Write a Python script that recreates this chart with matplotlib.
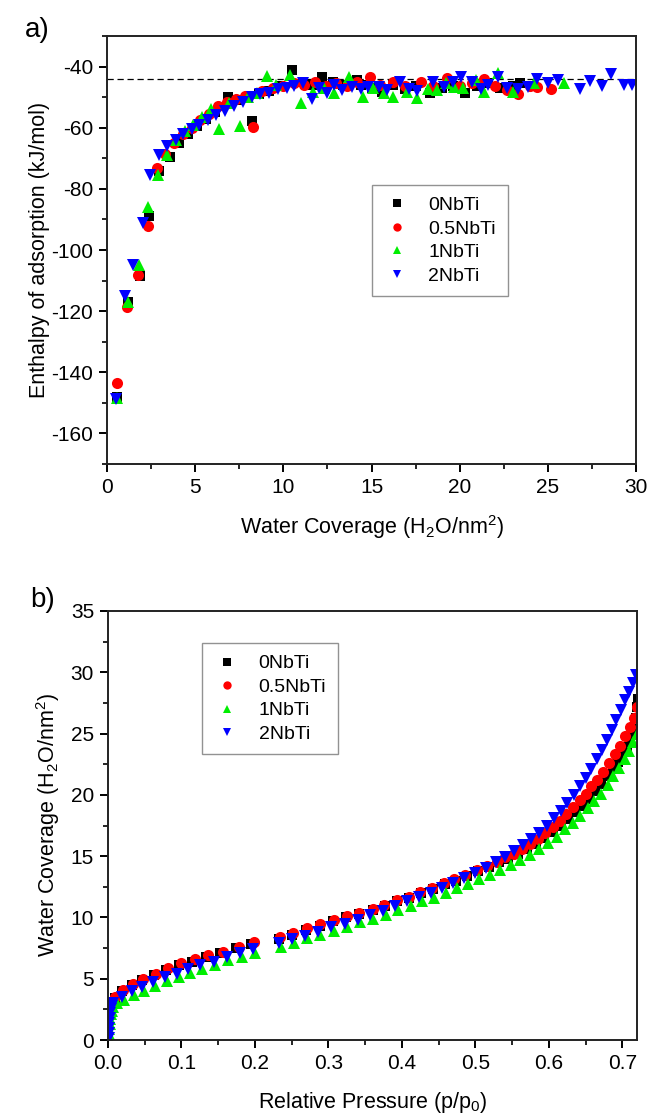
import matplotlib
matplotlib.use("Agg")
import matplotlib.pyplot as plt
from matplotlib.ticker import MultipleLocator

plt.rcParams['font.family'] = ['Liberation Sans', 'DejaVu Sans']
plt.rcParams['mathtext.fontset'] = 'custom'
plt.rcParams['mathtext.rm'] = 'Liberation Sans'
plt.rcParams['mathtext.it'] = 'Liberation Sans:italic'
plt.rcParams['axes.unicode_minus'] = False

labels = ['0NbTi', '0.5NbTi', '1NbTi', '2NbTi']
colors = ['#000000', '#ff0000', '#00ee00', '#0000ff']
markers = ['s', 'o', '^', 'v']

# ---- panel a) enthalpy of adsorption vs water coverage ----
a_x_0 = [0.57, 1.19, 1.87, 2.38, 2.95, 3.6, 4.1, 4.6, 5.1, 5.6, 6.1, 6.86, 7.4, 8.2, 8.6, 9.2, 9.8,
         10.5, 11.1, 11.7, 12.2, 12.8, 13.4, 14.2, 14.4, 15.0, 15.6, 16.2, 16.9, 17.5, 18.3, 19.0,
         19.6, 20.3, 21.0, 21.6, 22.3, 23.0, 23.4]
a_y_0 = [-148, -117, -108.4, -89, -74, -69.6, -65, -62, -59.5, -57, -55, -50, -51, -57.8, -49, -48,
         -46.5, -41.2, -45, -46, -43.4, -45.1, -46, -44.4, -46.1, -47, -48.3, -46, -47.5, -46.5,
         -48.7, -47, -46.5, -48.7, -46.5, -45.5, -47, -46.5, -45.5]

a_x_05 = [0.57, 1.13, 1.76, 2.33, 2.84, 3.3, 3.8, 4.3, 4.8, 5.3, 5.8, 6.3, 6.8, 7.3, 7.8, 8.3, 8.8,
          9.4, 10.0, 10.6, 11.2, 11.8, 12.4, 13.0, 13.6, 14.2, 14.9, 15.5, 16.2, 16.9, 17.8, 18.5,
          19.3, 20.0, 20.7, 21.4, 22.0, 22.7, 23.3, 24.0, 24.4, 25.2]
a_y_05 = [-143.5, -118.5, -108.3, -92.3, -73.3, -68.5, -65, -62, -60, -57.5, -55.5, -53, -51.5,
          -50.5, -49.5, -59.8, -48, -47, -46.5, -45.5, -46, -45, -46.5, -45.5, -46.5, -45, -43.3,
          -46, -45, -46.5, -45, -46.5, -43.8, -46.5, -45.5, -44.1, -46.5, -47.7, -49, -46.5,
          -46.6, -47.5]

a_x_1 = [0.57, 1.19, 1.82, 2.33, 2.9, 3.4, 3.9, 4.4, 4.9, 5.4, 5.9, 6.35, 6.9, 7.55, 8.0, 8.5,
         9.07, 9.6, 10.4, 11.0, 11.7, 12.3, 12.9, 13.7, 14.5, 15.1, 15.7, 16.2, 17.0, 17.6, 18.2,
         18.7, 19.2, 19.7, 20.2, 20.9, 21.4, 22.2, 23.0, 24.2, 25.9]
a_y_1 = [-148.4, -117, -105, -86, -75.6, -69, -64, -61, -59, -56.5, -54, -60.5, -52, -59.5, -50,
         -48.5, -43, -46, -42.8, -52, -48.3, -47, -48.7, -43.4, -49.9, -47, -48.7, -49.9, -48.4,
         -50.4, -47.5, -47.6, -45.5, -46.6, -47.1, -44.5, -48.3, -42.2, -48.3, -45.5, -45.5]

a_x_2 = [0.51, 1.02, 1.48, 2.04, 2.44, 2.95, 3.4, 3.9, 4.3, 4.8, 5.2, 5.7, 6.2, 6.7, 7.2, 7.7,
         8.2, 8.7, 9.2, 9.7, 10.2, 10.6, 11.1, 11.6, 12.0, 12.5, 12.9, 13.3, 13.9, 14.4, 14.8,
         15.4, 15.9, 16.6, 17.1, 17.6, 18.5, 19.1, 19.6, 20.1, 20.7, 21.2, 21.6, 22.2, 22.7,
         23.3, 23.9, 24.4, 25.0, 25.6, 26.8, 27.4, 28.1, 28.6, 29.3, 29.8]
a_y_2 = [-148.7, -115, -105, -91.3, -75.6, -69, -66, -64, -62, -60.5, -59, -57.5, -56, -54.5, -53,
         -51.5, -50, -49, -48.5, -47.5, -47, -46.5, -45.5, -50.6, -47.1, -48.8, -46.1, -47.7,
         -46.7, -47.4, -46.8, -46.7, -47.7, -45, -47.4, -48, -45.1, -46.6, -45, -43.4, -45,
         -47.4, -46.1, -43.4, -47.1, -47.4, -46.6, -44.2, -45.5, -44.5, -47.4, -44.7, -46.4,
         -42.5, -46.1, -46.1]

ref_enthalpy = -44

# ---- panel b) water coverage vs relative pressure ----
b_p_0 = [0.003, 0.009, 0.019, 0.032, 0.046, 0.062, 0.079, 0.097, 0.115, 0.133, 0.153, 0.174,
         0.195, 0.233, 0.251, 0.270, 0.288, 0.306, 0.324, 0.342, 0.360, 0.377, 0.394, 0.410,
         0.426, 0.442, 0.458, 0.473, 0.488, 0.503, 0.518, 0.532, 0.545, 0.558, 0.570, 0.582,
         0.594, 0.605, 0.616, 0.626, 0.636, 0.645, 0.654, 0.663, 0.671, 0.679, 0.687, 0.694,
         0.700, 0.706, 0.711, 0.715, 0.718, 0.720, 0.721]
b_w_0 = [2.8, 3.4, 4.0, 4.5, 4.9, 5.3, 5.7, 6.1, 6.4, 6.8, 7.1, 7.5, 7.8, 8.2, 8.6, 9.0, 9.3,
         9.7, 10.0, 10.3, 10.6, 10.9, 11.3, 11.6, 12.0, 12.3, 12.7, 13.0, 13.4, 13.8, 14.1, 14.5,
         14.8, 15.2, 15.6, 16.0, 16.5, 17.0, 17.5, 18.0, 18.6, 19.1, 19.7, 20.3, 20.9, 21.5,
         22.1, 22.7, 23.3, 23.9, 24.6, 25.4, 26.3, 27.2, 27.8]

b_p_05 = [0.003, 0.010, 0.020, 0.034, 0.048, 0.065, 0.082, 0.100, 0.118, 0.136, 0.157, 0.178,
          0.199, 0.234, 0.252, 0.271, 0.289, 0.307, 0.325, 0.342, 0.361, 0.376, 0.393, 0.409,
          0.425, 0.441, 0.457, 0.471, 0.486, 0.502, 0.516, 0.529, 0.541, 0.552, 0.563, 0.574,
          0.585, 0.595, 0.605, 0.615, 0.624, 0.633, 0.642, 0.650, 0.658, 0.666, 0.674, 0.682,
          0.690, 0.697, 0.704, 0.710, 0.716, 0.720]
b_w_05 = [3.0, 3.5, 4.1, 4.6, 5.0, 5.4, 5.9, 6.3, 6.6, 6.9, 7.2, 7.6, 8.0, 8.4, 8.7, 9.1, 9.5,
          9.8, 10.1, 10.4, 10.7, 11.0, 11.4, 11.7, 12.1, 12.4, 12.8, 13.1, 13.5, 13.9, 14.2,
          14.5, 14.9, 15.2, 15.6, 16.0, 16.4, 16.9, 17.4, 17.9, 18.4, 19.0, 19.6, 20.1, 20.7,
          21.2, 21.9, 22.6, 23.3, 24.0, 24.8, 25.5, 26.3, 27.2]

b_p_1 = [0.001, 0.002, 0.002, 0.003, 0.003, 0.004, 0.005, 0.007, 0.012, 0.022, 0.035, 0.049,
         0.064, 0.080, 0.096, 0.112, 0.128, 0.146, 0.164, 0.182, 0.200, 0.235, 0.253, 0.271,
         0.289, 0.307, 0.325, 0.343, 0.361, 0.378, 0.395, 0.412, 0.428, 0.444, 0.460, 0.475,
         0.490, 0.505, 0.520, 0.534, 0.548, 0.561, 0.574, 0.587, 0.599, 0.611, 0.622, 0.633,
         0.643, 0.653, 0.662, 0.671, 0.680, 0.688, 0.696, 0.703, 0.709, 0.715, 0.720]
b_w_1 = [0.1, 0.5, 0.9, 1.3, 1.7, 2.1, 2.4, 2.7, 3.0, 3.3, 3.7, 4.0, 4.4, 4.8, 5.1, 5.5, 5.8,
         6.1, 6.5, 6.8, 7.1, 7.6, 7.9, 8.3, 8.6, 8.9, 9.2, 9.6, 9.9, 10.2, 10.6, 10.9, 11.3,
         11.6, 12.0, 12.4, 12.7, 13.1, 13.5, 13.9, 14.3, 14.7, 15.1, 15.6, 16.1, 16.6, 17.2,
         17.7, 18.3, 18.9, 19.5, 20.1, 20.8, 21.5, 22.2, 22.9, 23.6, 24.3, 25.0]

b_p_2 = [0.001, 0.001, 0.002, 0.002, 0.003, 0.003, 0.004, 0.005, 0.007, 0.019, 0.032, 0.046,
         0.061, 0.078, 0.094, 0.109, 0.125, 0.144, 0.162, 0.180, 0.198, 0.233, 0.250, 0.268,
         0.286, 0.304, 0.322, 0.340, 0.357, 0.374, 0.391, 0.407, 0.423, 0.439, 0.455, 0.470,
         0.485, 0.500, 0.514, 0.528, 0.541, 0.553, 0.565, 0.576, 0.587, 0.597, 0.607, 0.616,
         0.625, 0.634, 0.642, 0.650, 0.658, 0.665, 0.672, 0.679, 0.686, 0.692, 0.698, 0.704,
         0.709, 0.714, 0.719]
b_w_2 = [0.2, 0.6, 1.0, 1.4, 1.8, 2.2, 2.5, 2.8, 3.0, 3.5, 4.0, 4.3, 4.7, 5.1, 5.4, 5.8, 6.1,
         6.4, 6.8, 7.1, 7.4, 7.9, 8.2, 8.5, 8.8, 9.2, 9.5, 9.8, 10.2, 10.5, 10.9, 11.3, 11.7,
         12.0, 12.4, 12.8, 13.2, 13.6, 14.0, 14.5, 14.9, 15.4, 15.9, 16.4, 16.9, 17.5, 18.1,
         18.7, 19.3, 20.0, 20.7, 21.4, 22.1, 22.9, 23.7, 24.5, 25.3, 26.1, 26.9, 27.7, 28.4,
         29.1, 29.8]

a_series = [(a_x_0, a_y_0), (a_x_05, a_y_05), (a_x_1, a_y_1), (a_x_2, a_y_2)]
b_series = [(b_p_0, b_w_0), (b_p_05, b_w_05), (b_p_1, b_w_1), (b_p_2, b_w_2)]
msizes = [7.0, 8.0, 8.5, 8.5]

fig = plt.figure(figsize=(6.49, 11.17), dpi=100)
W, H = 649, 1117
ax1 = fig.add_axes([107 / W, 1 - 464 / H, (636 - 107) / W, (464 - 36) / H])
ax2 = fig.add_axes([108 / W, 1 - 1040 / H, (637 - 108) / W, (1040 - 611) / H])

for (x, y), lab, c, m, ms in zip(a_series, labels, colors, markers, msizes):
    ax1.plot(x, y, linestyle='none', marker=m, color=c, markersize=ms,
             markeredgewidth=0, label=lab)
ax1.axhline(ref_enthalpy, color='black', linestyle=(0, (5, 3)), linewidth=0.9, zorder=1)

for (x, y), lab, c, m, ms in zip(b_series, labels, colors, markers, msizes):
    ax2.plot(x, y, linestyle='none', marker=m, color=c, markersize=ms,
             markeredgewidth=0, label=lab)

ax1.set_xlim(0, 30)
ax1.set_ylim(-170, -30)
ax1.xaxis.set_major_locator(MultipleLocator(5))
ax1.xaxis.set_minor_locator(MultipleLocator(2.5))
ax1.yaxis.set_major_locator(MultipleLocator(20))
ax1.yaxis.set_minor_locator(MultipleLocator(10))
ax1.set_xlabel('Water Coverage (H$_2$O/nm$^2$)', fontsize=15.5, labelpad=12)
ax1.set_ylabel('Enthalpy of adsorption (kJ/mol)', fontsize=15.5, labelpad=1)

ax2.set_xlim(0, 0.72)
ax2.set_ylim(0, 35)
ax2.xaxis.set_major_locator(MultipleLocator(0.1))
ax2.xaxis.set_minor_locator(MultipleLocator(0.05))
ax2.yaxis.set_major_locator(MultipleLocator(5))
ax2.yaxis.set_minor_locator(MultipleLocator(2.5))
ax2.set_xlabel('Relative Pressure (p/p$_0$)', fontsize=15.5, labelpad=12)
ax2.set_ylabel('Water Coverage (H$_2$O/nm$^2$)', fontsize=15.5, labelpad=6)

for ax in (ax1, ax2):
    for s in ax.spines.values():
        s.set_linewidth(1.4)
        s.set_color('#222222')
    ax.tick_params(which='major', direction='out', length=6, width=1.4, labelsize=15,
                   top=False, right=False, pad=4)
    ax.tick_params(which='minor', direction='out', length=3.5, width=1.2,
                   top=False, right=False)

leg_kw = dict(loc='upper left', fontsize=14, numpoints=1, frameon=True, fancybox=False,
              edgecolor='#777777', borderpad=0.6, handletextpad=0.9, handlelength=1.4,
              labelspacing=0.3, markerscale=0.75, borderaxespad=0)
leg1 = ax1.legend(bbox_to_anchor=(0.501, 0.652), **leg_kw)
leg1.get_frame().set_linewidth(1.0)
leg2 = ax2.legend(bbox_to_anchor=(0.178, 0.925), **leg_kw)
leg2.get_frame().set_linewidth(1.0)

fig.text(25 / W, 1 - 30 / H, 'a)', fontsize=20, va='center', ha='left')
fig.text(30 / W, 1 - 600 / H, 'b)', fontsize=20, va='center', ha='left')

fig.savefig('out.png', dpi=100, facecolor='white')
